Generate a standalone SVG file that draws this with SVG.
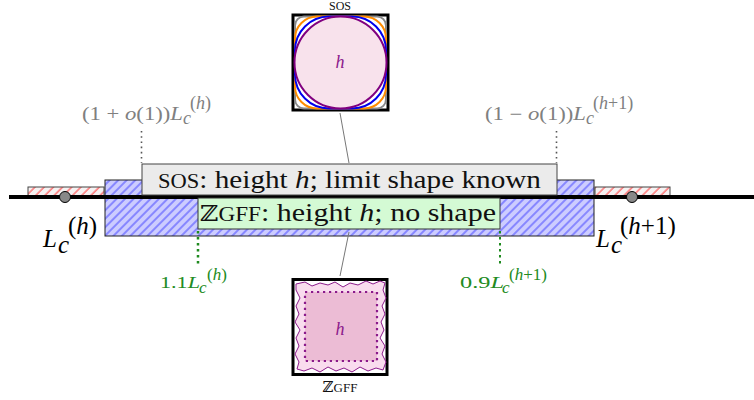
<svg xmlns="http://www.w3.org/2000/svg" width="754" height="400" viewBox="0 0 754 400">
<style>
text{font-family:"Liberation Serif","DejaVu Serif",serif}
.it{font-style:italic}
.gray{fill:#808080;font-size:18px}
.green{fill:#228b22;font-size:17px}
.big{fill:#000;font-size:25px}
.lbl{font-size:26px;fill:#111}
.conn{stroke:#777;stroke-width:1;fill:none}
.gdot{stroke:#555;stroke-width:1.6;stroke-dasharray:1.6 3.6;fill:none}
.grdot{stroke:#1f8a1f;stroke-width:2.5;stroke-dasharray:2.5 3.5;fill:none}
.frame{fill:#fff;stroke:#000;stroke-width:3}
</style>
<defs>
<pattern id="blueHatch" patternUnits="userSpaceOnUse" width="6" height="6" patternTransform="rotate(45)">
<rect width="6" height="6" fill="#ccccff"/>
<line x1="1" y1="0" x2="1" y2="6" stroke="#3333ff" stroke-width="0.9"/>
</pattern>
<pattern id="redHatch" patternUnits="userSpaceOnUse" width="6.5" height="6.5" patternTransform="rotate(45)">
<rect width="6.5" height="6.5" fill="#f6f2f2"/>
<line x1="1" y1="0" x2="1" y2="6.5" stroke="#ff4444" stroke-width="1.1"/>
</pattern>
</defs>
<rect width="754" height="400" fill="#fff"/>

<g id="bars">
<rect x="28" y="187" width="76" height="10" fill="url(#redHatch)" stroke="#444" stroke-width="1"/>
<rect x="595" y="187" width="75" height="10" fill="url(#redHatch)" stroke="#444" stroke-width="1"/>
<rect x="105" y="180" width="489" height="56" fill="url(#blueHatch)" stroke="#222" stroke-width="1"/>
</g>

<g id="axis">
<line x1="9" y1="197" x2="754" y2="197" stroke="#000" stroke-width="4"/>
<circle cx="65" cy="197" r="5.5" fill="#888" stroke="#000" stroke-width="1"/>
<circle cx="632" cy="197" r="5.5" fill="#888" stroke="#000" stroke-width="1"/>
</g>

<g id="connectors">
<line class="conn" x1="340" y1="113" x2="349" y2="163"/>
<line class="conn" x1="349" y1="232" x2="340" y2="276"/>
<line class="gdot" x1="141.5" y1="131" x2="141.5" y2="163"/>
<line class="gdot" x1="556.5" y1="131" x2="556.5" y2="163"/>
<line class="grdot" x1="198" y1="231" x2="198" y2="267"/>
<line class="grdot" x1="500" y1="231" x2="500" y2="267" style="stroke-width:2"/>
</g>

<g id="sos-label">
<rect x="142" y="164" width="415" height="31" fill="#ebebeb" stroke="#444" stroke-width="1"/>
<text class="lbl" x="158" y="188" textLength="383" lengthAdjust="spacingAndGlyphs"><tspan font-size="20">SOS</tspan>: height <tspan class="it">h</tspan>; limit shape known</text>
</g>

<g id="zgff-label">
<rect x="198" y="198" width="302" height="31" fill="#d4fad4" stroke="#333" stroke-width="1"/>
<text class="lbl" x="200" y="221" textLength="296" lengthAdjust="spacingAndGlyphs"><tspan font-family="DejaVu Serif, DejaVu Sans, serif" font-size="22">ℤ</tspan><tspan font-size="20">GFF</tspan>: height <tspan class="it">h</tspan>; no shape</text>
</g>

<g id="sos-picture">
<text x="340" y="10" text-anchor="middle" font-size="12" fill="#111">SOS</text>
<rect class="frame" x="293" y="15" width="95" height="95"/>
<rect x="295" y="16.5" width="91" height="92" rx="9" fill="#fff" stroke="#888" stroke-width="2"/>
<rect x="295" y="16.5" width="91" height="92" rx="22" fill="#fff" stroke="#ff8c00" stroke-width="2"/>
<rect x="295" y="16.5" width="91" height="92" rx="34" fill="#fff" stroke="#0000ee" stroke-width="2"/>
<circle cx="340.5" cy="62.5" r="46" fill="#f8e2ec" stroke="#800080" stroke-width="2"/>
<text x="340" y="68" text-anchor="middle" font-size="18" class="it" fill="#8b1a8b">h</text>
</g>

<g id="zgff-picture">
<rect class="frame" x="293" y="279.5" width="94" height="95"/>
<path d="M296,284 L305,282 L312,286 L320,283 L328,285 L335,282 L343,287 L350,283 L358,285 L366,281 L373,284 L380,281 L385,283 L383,290 L386,298 L382,306 L385,314 L381,322 L384,330 L380,338 L385,346 L382,354 L386,362 L383,370 L376,368 L368,371 L360,367 L352,372 L344,368 L336,371 L328,367 L320,372 L312,368 L304,371 L297,369 L299,362 L295,354 L299,346 L296,338 L300,330 L295,322 L299,314 L296,306 L300,298 L296,290 Z" fill="#f9dcee" stroke="#8b1a8b" stroke-width="1"/>
<rect x="305" y="292" width="72" height="69" fill="#ecbcd5" stroke="#8b1a8b" stroke-width="2.2" stroke-dasharray="2.2 3.8"/>
<text x="340" y="335" text-anchor="middle" font-size="18" class="it" fill="#8b1a8b">h</text>
<text x="340" y="392" text-anchor="middle" fill="#111"><tspan font-family="DejaVu Serif, DejaVu Sans, serif" font-size="15">ℤ</tspan><tspan font-size="13">GFF</tspan></text>
</g>

<g id="label-left-gray">
<text class="gray" x="82" y="120" textLength="101" lengthAdjust="spacingAndGlyphs">(1 + <tspan class="it">o</tspan>(1))<tspan class="it">L</tspan></text>
<text class="gray it" x="183" y="124" font-size="12">c</text>
<text class="gray" x="190" y="109" font-size="12">(<tspan class="it">h</tspan>)</text>
</g>
<g id="label-right-gray">
<text class="gray" x="485" y="120" textLength="101" lengthAdjust="spacingAndGlyphs">(1 − <tspan class="it">o</tspan>(1))<tspan class="it">L</tspan></text>
<text class="gray it" x="586" y="124" font-size="12">c</text>
<text class="gray" x="593" y="109" font-size="12">(<tspan class="it">h</tspan>+1)</text>
</g>

<g id="label-left-green">
<text class="green" x="160" y="288" textLength="40" lengthAdjust="spacingAndGlyphs">1.1<tspan class="it">L</tspan></text>
<text class="green it" x="199" y="293" font-size="12">c</text>
<text class="green" x="207" y="280" font-size="12">(<tspan class="it">h</tspan>)</text>
</g>
<g id="label-right-green">
<text class="green" x="460" y="288" textLength="44" lengthAdjust="spacingAndGlyphs">0.9<tspan class="it">L</tspan></text>
<text class="green it" x="502" y="293" font-size="12">c</text>
<text class="green" x="509" y="280" font-size="12">(<tspan class="it">h</tspan>+1)</text>
</g>

<g id="label-left-black">
<text class="big it" x="43" y="247">L</text>
<text class="big it" x="58" y="253" font-size="17">c</text>
<text class="big" x="68" y="234" font-size="17">(<tspan class="it">h</tspan>)</text>
</g>
<g id="label-right-black">
<text class="big it" x="596" y="247">L</text>
<text class="big it" x="611" y="253" font-size="17">c</text>
<text class="big" x="620" y="234" font-size="17">(<tspan class="it">h</tspan>+1)</text>
</g>
</svg>
